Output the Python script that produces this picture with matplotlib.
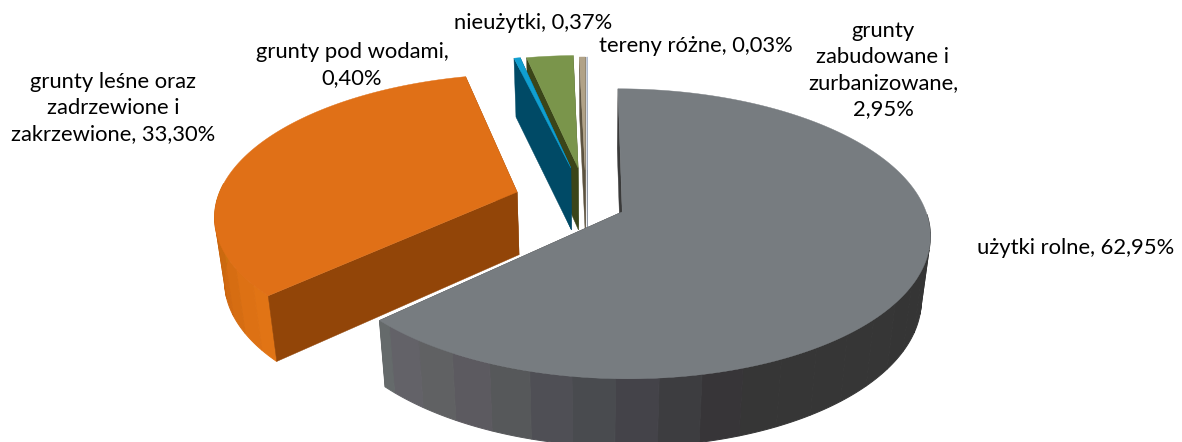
"""Exploded 3D pie of land use, drawn by hand with a small perspective projection."""
import numpy as np
import matplotlib.pyplot as plt
from matplotlib.colors import to_rgb

plt.rcParams['font.family'] = ['Lato', 'DejaVu Sans']

# ----- data -----
names = ["użytki rolne", "grunty leśne oraz\nzadrzewione i\nzakrzewione", "grunty pod wodami",
         "grunty\nzabudowane i\nzurbanizowane", "nieużytki", "tereny różne"]
values = [62.95, 33.30, 0.40, 2.95, 0.37, 0.03]
value_labels = ["62,95%", "33,30%", "0,40%", "2,95%", "0,37%", "0,03%"]

# ----- styles, same order as the data -----
TOP = ["#777c80", "#e07017", "#109fd0", "#7a954b", "#b1a287", "#b8c4d8"]
CUT = ["#3a3a3a", "#924508", "#004a66", "#3b4519", "#5d5340", "#8a93a3"]
# explosion offset of each slice in pie units
OFFSET = [(0.106, -0.063), (-0.245, 0.080), (-0.066, 0.262), (-0.041, 0.262), (-0.017, 0.247), (-0.010, 0.247)]
# rim shading: (clockwise angle, colour)
RIM = {
    0: [(90, "#353535"), (160, "#363636"), (168, "#3d3d40"), (176, "#45464a"), (184, "#4a4d50"),
        (201, "#5b5c5e"), (215, "#626466"), (227, "#666c6c")],
    1: [(226, "#e27415"), (240, "#d56c12"), (255, "#c9640f"), (272, "#d07810"), (300, "#d07810")],
}
BAND = 7    # degrees per shaded rim band

# projection, in pixels
XC, YC = 590, 203
R, A, K = 301, 139, 0.15          # top face
R_B, A_B, DEPTH = 293, 143, 63    # bottom face


def top_xy(X, V):
    w = 1 + K*V
    return XC + R*X/w, YC - A*V/w


def bot_xy(X, V):
    w = 1 + K*V
    return XC + R_B*X/w, YC + DEPTH - A_B*V/w


def rim_colour(i, ang):
    stops = RIM.get(i)
    if stops is None:
        return CUT[i]
    angs = [s[0] for s in stops]
    rgb = np.array([to_rgb(s[1]) for s in stops])
    col = np.array([np.interp(ang, angs, rgb[:, c]) for c in range(3)])
    # Excel style banding on the lit part of the rim
    if int(ang // BAND) % 2 and i == 0 and ang > 160:
        col = col*np.array([1.0, 0.97, 1.01])
    return np.clip(col, 0, 1)


fig = plt.figure(figsize=(11.82, 4.42), dpi=100)
ax = fig.add_axes([0, 0, 1, 1])
ax.set_xlim(0, 1182)
ax.set_ylim(442, 0)
ax.axis('off')

# slice angles, clockwise from twelve o'clock
edges = np.concatenate([[0], np.cumsum(values)]) / np.sum(values) * 360

# back to front
for i in [5, 4, 3, 2, 1, 0]:
    a0, a1 = edges[i], edges[i + 1]
    ox, oy = OFFSET[i]
    ang = np.append(np.arange(a0, a1, 1.0), a1)
    X = ox + np.sin(np.radians(ang))
    V = oy + np.cos(np.radians(ang))
    tx, ty = top_xy(X, V)
    bx, by = bot_xy(X, V)
    tipt = top_xy(ox, oy)
    tipb = bot_xy(ox, oy)
    z = i*-3 + 20

    def face(k):
        ax.fill([tipt[0], tx[k], bx[k], tipb[0]], [tipt[1], ty[k], by[k], tipb[1]],
                facecolor=CUT[i], edgecolor=CUT[i], linewidth=0.3, zorder=z)

    # end face sits behind the rim, start face in front of it
    face(-1)
    # outer rim, one polygon per band, back of the pie is hidden anyway
    band_id = (ang // BAND).astype(int)
    for b in np.unique(band_id):
        idx = np.where(band_id == b)[0]
        if np.cos(np.radians(ang[idx[0]])) > 0.05:
            continue
        idx = np.append(idx, min(idx[-1] + 1, len(ang) - 1))
        c = rim_colour(i, ang[idx[0]])
        ax.fill(np.r_[tx[idx], bx[idx][::-1]], np.r_[ty[idx], by[idx][::-1]],
                facecolor=c, edgecolor=c, linewidth=0.7, zorder=z)
    face(0)
    # top face
    ax.fill(np.r_[tipt[0], tx], np.r_[tipt[1], ty], facecolor=TOP[i], edgecolor=TOP[i],
            linewidth=0.3, zorder=z)

# data labels
FS = 15.8
label_pos = [(1076, 248), (113, 108), (352, 65), (883, 70), (533, 23), (696, 46)]
for i, (lx, ly) in enumerate(label_pos):
    sep = "\n" if i in (2, 3) else " "
    txt = f"{names[i]},{sep}{value_labels[i]}"
    ax.text(lx, ly, txt, ha='center', va='center', fontsize=FS, color="#000000",
            linespacing=1.36, zorder=40)

fig.savefig("out.png", dpi=100, facecolor='white')
plt.close(fig)
